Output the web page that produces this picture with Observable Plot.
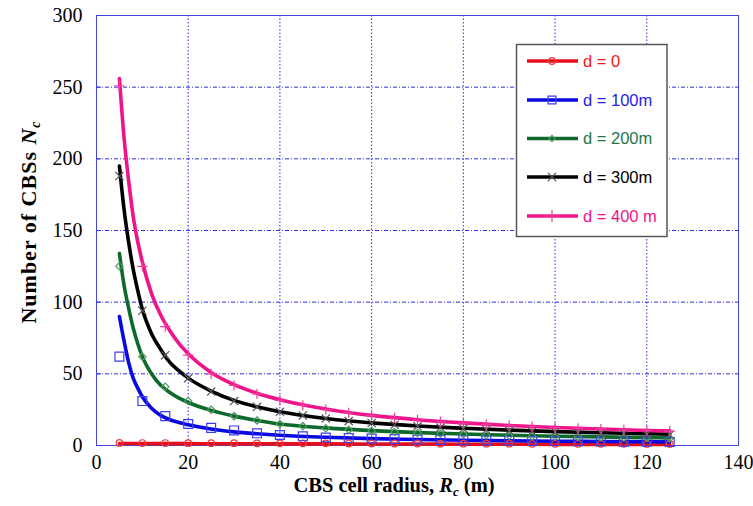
<!DOCTYPE html>
<html><head><meta charset="utf-8">
<script src="https://cdn.jsdelivr.net/npm/d3@7"></script>
<script src="https://cdn.jsdelivr.net/npm/@observablehq/plot@0.6"></script>
<style>body{margin:0;background:#fff}</style>
</head><body><div id="chart"></div>
<script>
// ---- data ----
const xTicks = [0, 20, 40, 60, 80, 100, 120, 140];
const yTicks = [0, 50, 100, 150, 200, 250, 300];
const xGridTicks = [20, 40, 60, 80, 100, 120];
const yGridTicks = [50, 100, 150, 200, 250];

const seriesNames = ["d = 0", "d = 100m", "d = 200m", "d = 300m", "d = 400 m"];

// smooth (analytical) curves
const lineR = [5, 6, 7, 8, 9, 10, 12, 14, 16, 18, 20, 25, 30, 35, 40, 50, 60, 70, 80, 90, 100, 110, 120, 125];
const redLine   = [1.4, 1.4, 1.4, 1.4, 1.4, 1.4, 1.3, 1.3, 1.3, 1.3, 1.3, 1.2, 1.2, 1.2, 1.1, 1.1, 1.0, 1.0, 0.9, 0.9, 0.8, 0.8, 0.8, 0.7];
const blueLine  = [90, 73, 58, 47, 40, 34, 26, 21, 18, 16, 14.5, 11.5, 9.5, 8.2, 7.2, 5.8, 4.8, 4.2, 3.7, 3.3, 3.0, 2.8, 2.6, 2.5];
const greenLine = [134, 112, 96, 82, 71, 62, 50, 42, 37, 33, 30, 24.5, 20.5, 17.5, 15, 12.3, 10.4, 9.0, 8.0, 7.2, 6.5, 6.0, 5.5, 5.3];
const blackLine = [195, 165, 142, 123, 108, 95, 78, 67, 58, 52, 47, 38, 31.5, 27, 23.5, 18.8, 15.8, 13.6, 12.0, 10.7, 9.7, 8.9, 8.2, 7.9];
const pinkLine  = [256, 215, 185, 160, 142, 128, 106, 91, 80, 71, 64, 51, 42.5, 36.5, 32, 25.5, 21, 18, 15.8, 14, 12.6, 11.5, 10.5, 10.2];

// simulated points
const markR = [5, 10, 15, 20, 25, 30, 35, 40, 45, 50, 55, 60, 65, 70, 75, 80, 85, 90, 95, 100, 105, 110, 115, 120, 125];
const redMarks   = [1.8, 1.7, 1.7, 1.6, 1.6, 1.6, 1.5, 1.5, 1.5, 1.5, 1.4, 1.4, 1.4, 1.4, 1.3, 1.3, 1.3, 1.3, 1.2, 1.2, 1.2, 1.2, 1.2, 1.1, 1.1];
const blueMarks  = [62, 31, 20.5, 15, 12.3, 10.5, 8.5, 7.3, 6.4, 5.6, 5.2, 4.8, 4.5, 4.2, 3.9, 3.7, 3.5, 3.3, 3.2, 3.1, 2.9, 2.8, 2.7, 2.6, 2.5];
const greenMarks = [125, 62, 41, 31, 25, 20.5, 17.5, 15, 13.5, 12, 11, 10.2, 9.4, 8.8, 8.2, 7.7, 7.2, 6.8, 6.5, 6.2, 5.9, 5.6, 5.4, 5.2, 5.0];
const blackMarks = [188, 94, 63, 47, 37.6, 31, 27, 23.5, 21, 18.8, 17, 15.7, 14.5, 13.4, 12.5, 11.8, 11, 10.4, 9.9, 9.4, 9.0, 8.5, 8.2, 7.8, 7.5];
const pinkMarks  = [251, 125, 83, 63, 50, 42, 36, 31.5, 28, 25, 22.7, 20.8, 19.2, 17.8, 16.6, 15.6, 14.7, 13.9, 13.1, 12.5, 11.9, 11.4, 10.9, 10.4, 10.0];

const lineValues = [redLine, blueLine, greenLine, blackLine, pinkLine];
const markValues = [redMarks, blueMarks, greenMarks, blackMarks, pinkMarks];

// ---- styles ----
const serif = "Liberation Serif";
const styles = [
  {line: "#e3101c", mark: "#ee3c3c", text: "#f01818", symbol: "circle",   d3sym: d3.symbolCircle,   r: 3.3, lr: 3.3},
  {line: "#0a0ae0", mark: "#3c3cee", text: "#2424e8", symbol: "square",   d3sym: d3.symbolSquare,   r: 5.0, lr: 4.4},
  {line: "#0d6a2c", mark: "#4c9a5e", text: "#23774a", symbol: "diamond2", d3sym: d3.symbolDiamond2, r: 3.3, lr: 2.8},
  {line: "#000000", mark: "#555555", text: "#000000", symbol: "times",    d3sym: d3.symbolTimes,    r: 3.8, lr: 3.8},
  {line: "#f0148a", mark: "#f23c9e", text: "#f0148a", symbol: "plus",     d3sym: d3.symbolPlus,     r: 3.4, lr: 4.0}
];

const marks = [
  Plot.gridY(yGridTicks, {stroke: "#2b2be6", strokeOpacity: 1, strokeWidth: 1, strokeDasharray: "4,2,1,2"}),
  Plot.gridX(xGridTicks, {stroke: "#2b2be6", strokeOpacity: 1, strokeWidth: 1, strokeDasharray: "1.5,2"}),
  Plot.frame({stroke: "#4646dc", strokeWidth: 1}),
  // inward tick marks on the left axis
  Plot.axisY({ticks: yTicks, tickSize: 5, dx: 5, fill: "none", label: null, stroke: "#3a3ad8"}),
  // tick labels
  Plot.text(xTicks, {x: d => d, frameAnchor: "bottom", dy: 23, text: d => String(d),
    fontFamily: serif, fontSize: 20, fill: "#000"}),
  Plot.text(yTicks, {y: d => d, frameAnchor: "left", dx: -14, textAnchor: "end", text: d => String(d),
    fontFamily: serif, fontSize: 20, fill: "#000"})
];
lineValues.forEach((vals, i) => {
  marks.push(Plot.line(lineR, {x: lineR, y: vals, stroke: styles[i].line, strokeWidth: 3.6, curve: "monotone-x"}));
});
markValues.forEach((vals, i) => {
  marks.push(Plot.dot(markR, {x: markR, y: vals, symbol: styles[i].symbol, r: styles[i].r, fill: "none", stroke: styles[i].mark, strokeWidth: 1.2}));
});

const chart = Plot.plot({
  width: 753,
  height: 506,
  marginLeft: 96,
  marginRight: 15,
  marginTop: 15,
  marginBottom: 61,
  style: {background: "#fff", color: "#000"},
  x: {domain: [0, 140], axis: null},
  y: {domain: [0, 300], axis: null},
  marks
});
document.getElementById("chart").appendChild(chart);

const svg = d3.select(chart);

// ---- axis titles (rich text) ----
const xt = svg.append("text")
  .attr("x", 394).attr("y", 492)
  .attr("text-anchor", "middle")
  .attr("font-family", serif)
  .attr("font-size", 20.5).attr("font-weight", "bold").attr("fill", "#000");
xt.append("tspan").text("CBS cell radius, ");
xt.append("tspan").attr("font-style", "italic").text("R");
xt.append("tspan").attr("font-style", "italic").attr("font-size", 13).attr("dy", 4).text("c");
xt.append("tspan").attr("dy", -4).text(" (m)");

const yt = svg.append("text")
  .attr("transform", "translate(36,222) rotate(-90)")
  .attr("text-anchor", "middle")
  .attr("font-family", serif)
  .attr("letter-spacing", 1)
  .attr("font-size", 22).attr("font-weight", "bold").attr("fill", "#000");
yt.append("tspan").text("Number of CBSs ");
yt.append("tspan").attr("font-style", "italic").text("N");
yt.append("tspan").attr("font-style", "italic").attr("font-size", 14).attr("dy", 4).text("c");

// ---- legend ----
const lg = svg.append("g");
lg.append("rect").attr("x", 516.5).attr("y", 44.5).attr("width", 150.5).attr("height", 192)
  .attr("fill", "#fff").attr("stroke", "#555").attr("stroke-width", 1.5);
const legendY = [61, 100, 138.5, 177, 216];
seriesNames.forEach((name, i) => {
  const y = legendY[i], s = styles[i];
  lg.append("line").attr("x1", 527).attr("x2", 578).attr("y1", y).attr("y2", y)
    .attr("stroke", s.line).attr("stroke-width", 3.6);
  lg.append("path").attr("transform", `translate(552,${y})`)
    .attr("d", d3.symbol(s.d3sym, Math.PI * s.lr * s.lr)())
    .attr("fill", "none").attr("stroke", s.mark).attr("stroke-width", 1.2);
  lg.append("text").attr("x", 583).attr("y", y).attr("dy", "0.36em")
    .attr("text-anchor", "start")
    .attr("font-family", "Liberation Sans").attr("font-size", 16.5)
    .attr("fill", s.text).text(name);
});
</script>
</body></html>
